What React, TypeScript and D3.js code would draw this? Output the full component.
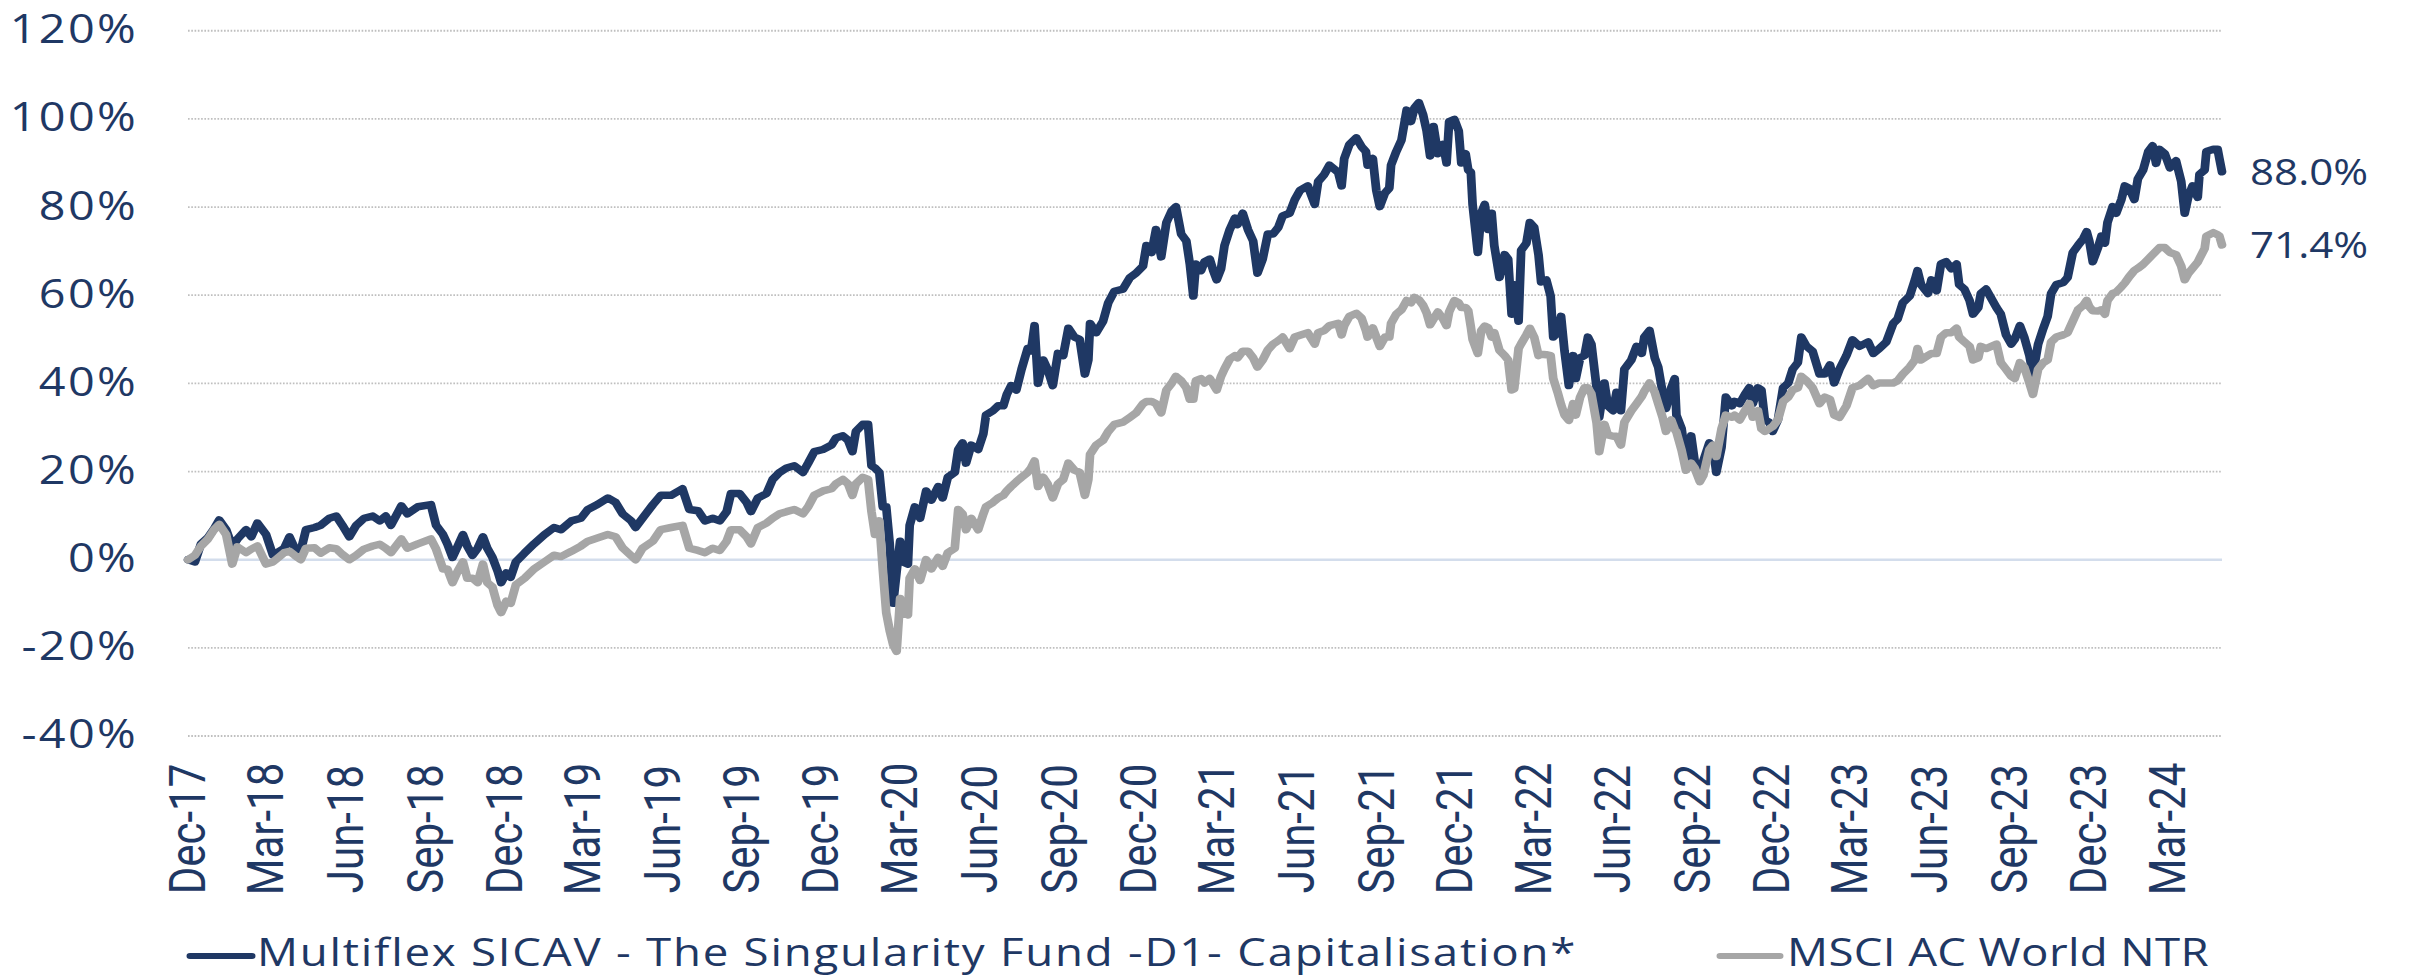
import React from "react";
import * as d3 from "d3";

// performance since launch, %
const dates = [
  "2017-12-29", "2018-01-06", "2018-01-13", "2018-01-21", "2018-01-28", "2018-02-03", "2018-02-11", "2018-02-18",
  "2018-02-24", "2018-03-06", "2018-03-12", "2018-03-19", "2018-03-29", "2018-04-06", "2018-04-11", "2018-04-19",
  "2018-04-25", "2018-05-01", "2018-05-08", "2018-05-14", "2018-05-24", "2018-05-31", "2018-06-10", "2018-06-18",
  "2018-06-25", "2018-07-03", "2018-07-11", "2018-07-20", "2018-07-30", "2018-08-07", "2018-08-14", "2018-08-20",
  "2018-09-01", "2018-09-08", "2018-09-20", "2018-10-05", "2018-10-11", "2018-10-19", "2018-10-24", "2018-10-30",
  "2018-11-05", "2018-11-11", "2018-11-16", "2018-11-22", "2018-11-28", "2018-12-04", "2018-12-09", "2018-12-15",
  "2018-12-21", "2018-12-25", "2018-12-31", "2019-01-05", "2019-01-11", "2019-01-21", "2019-02-01", "2019-02-13",
  "2019-02-24", "2019-03-04", "2019-03-16", "2019-03-27", "2019-04-04", "2019-04-15", "2019-04-27", "2019-05-06",
  "2019-05-14", "2019-05-24", "2019-05-29", "2019-06-06", "2019-06-18", "2019-06-27", "2019-07-09", "2019-07-22",
  "2019-07-30", "2019-08-09",
  "2019-08-17", "2019-08-26", "2019-09-03", "2019-09-11", "2019-09-16", "2019-09-26", "2019-10-04", "2019-10-09",
  "2019-10-17", "2019-10-27", "2019-11-03", "2019-11-11", "2019-11-19", "2019-11-28", "2019-12-08", "2019-12-14",
  "2019-12-21", "2019-12-31", "2020-01-10", "2020-01-15", "2020-01-23", "2020-01-29", "2020-02-03", "2020-02-07",
  "2020-02-15", "2020-02-21", "2020-02-25", "2020-02-29", "2020-03-05", "2020-03-09", "2020-03-13", "2020-03-17",
  "2020-03-21", "2020-03-25", "2020-03-29", "2020-04-01", "2020-04-07", "2020-04-09", "2020-04-15", "2020-04-21",
  "2020-04-28", "2020-05-04", "2020-05-12", "2020-05-17", "2020-05-23", "2020-05-31", "2020-06-04", "2020-06-09",
  "2020-06-13", "2020-06-19", "2020-06-27", "2020-07-03", "2020-07-06", "2020-07-14", "2020-07-20", "2020-07-26",
  "2020-07-30", "2020-08-04", "2020-08-10", "2020-08-16", "2020-08-23", "2020-08-27", "2020-08-31", "2020-09-04",
  "2020-09-10", "2020-09-15", "2020-09-21", "2020-09-27", "2020-10-03", "2020-10-09", "2020-10-16", "2020-10-22",
  "2020-10-28", "2020-11-01", "2020-11-03", "2020-11-10", "2020-11-18", "2020-11-24", "2020-12-01", "2020-12-11",
  "2020-12-19", "2020-12-26", "2021-01-03", "2021-01-07", "2021-01-13", "2021-01-18", "2021-01-24", "2021-01-30",
  "2021-02-05", "2021-02-10", "2021-02-16", "2021-02-22", "2021-02-26", "2021-03-02", "2021-03-05", "2021-03-11",
  "2021-03-15",
  "2021-03-21", "2021-03-25", "2021-03-29", "2021-04-03", "2021-04-07", "2021-04-13", "2021-04-19", "2021-04-22",
  "2021-04-28", "2021-05-04", "2021-05-10", "2021-05-15", "2021-05-21", "2021-05-27", "2021-06-02", "2021-06-08",
  "2021-06-13", "2021-06-21", "2021-06-27", "2021-07-03", "2021-07-12", "2021-07-20", "2021-07-24", "2021-07-31",
  "2021-08-06", "2021-08-16", "2021-08-20", "2021-08-23", "2021-08-29", "2021-09-06", "2021-09-12", "2021-09-17",
  "2021-09-19", "2021-09-25", "2021-09-29", "2021-10-03", "2021-10-09", "2021-10-14", "2021-10-16", "2021-10-22",
  "2021-10-28", "2021-11-03", "2021-11-08", "2021-11-12", "2021-11-17", "2021-11-22", "2021-11-26", "2021-11-30",
  "2021-12-04", "2021-12-09", "2021-12-15", "2021-12-19", "2021-12-22", "2021-12-28", "2022-01-02", "2022-01-05",
  "2022-01-10", "2022-01-13", "2022-01-16", "2022-01-18", "2022-01-24", "2022-01-28", "2022-02-01", "2022-02-05",
  "2022-02-09", "2022-02-12", "2022-02-18", "2022-02-24", "2022-02-28", "2022-03-04", "2022-03-07", "2022-03-12",
  "2022-03-15", "2022-03-21", "2022-03-25", "2022-03-30", "2022-04-04", "2022-04-07", "2022-04-13", "2022-04-18",
  "2022-04-21", "2022-04-26", "2022-04-30", "2022-05-04", "2022-05-09", "2022-05-14", "2022-05-17", "2022-05-22",
  "2022-05-27", "2022-05-31", "2022-06-04", "2022-06-10", "2022-06-13", "2022-06-19", "2022-06-23", "2022-06-29",
  "2022-07-03", "2022-07-08", "2022-07-12", "2022-07-20", "2022-07-26", "2022-08-01", "2022-08-04", "2022-08-10",
  "2022-08-16", "2022-08-20", "2022-08-25", "2022-08-29", "2022-09-04", "2022-09-08", "2022-09-10", "2022-09-16",
  "2022-09-21", "2022-09-27", "2022-10-01", "2022-10-07", "2022-10-11", "2022-10-18", "2022-10-22", "2022-10-26",
  "2022-11-01", "2022-11-06", "2022-11-13",
  "2022-11-16", "2022-11-22", "2022-11-28", "2022-12-03", "2022-12-07", "2022-12-13", "2022-12-17", "2022-12-21",
  "2022-12-26", "2022-12-30", "2023-01-05", "2023-01-11", "2023-01-17", "2023-01-22", "2023-01-28", "2023-02-01",
  "2023-02-07", "2023-02-14", "2023-02-22", "2023-02-28", "2023-03-06", "2023-03-11", "2023-03-17", "2023-03-25",
  "2023-04-01", "2023-04-09", "2023-04-19", "2023-04-25", "2023-05-02", "2023-05-10", "2023-05-18", "2023-05-23",
  "2023-05-29", "2023-06-06", "2023-06-12", "2023-06-15", "2023-06-19", "2023-06-27", "2023-07-01", "2023-07-07",
  "2023-07-12", "2023-07-18", "2023-07-24", "2023-07-30", "2023-08-02", "2023-08-08", "2023-08-14", "2023-08-18",
  "2023-08-24", "2023-08-27", "2023-09-02", "2023-09-08", "2023-09-14", "2023-09-19", "2023-09-25", "2023-10-01",
  "2023-10-05", "2023-10-11", "2023-10-16", "2023-10-22", "2023-10-26", "2023-11-01", "2023-11-07", "2023-11-12",
  "2023-11-16", "2023-11-22", "2023-11-30", "2023-12-05", "2023-12-11", "2023-12-17", "2023-12-23", "2023-12-27",
  "2023-12-30", "2024-01-03", "2024-01-09", "2024-01-13", "2024-01-17", "2024-01-20", "2024-01-26", "2024-01-30",
  "2024-02-05", "2024-02-09", "2024-02-14", "2024-02-20", "2024-02-24", "2024-03-01", "2024-03-07", "2024-03-12",
  "2024-03-16", "2024-03-20", "2024-03-26", "2024-04-01", "2024-04-08", "2024-04-14", "2024-04-18", "2024-04-22",
  "2024-04-27", "2024-05-03", "2024-05-05", "2024-05-11", "2024-05-13", "2024-05-21", "2024-05-26", "2024-05-28",
  "2024-05-31",
];

const fundValues = [
  0.0, -0.5, 3.6, 5.0, 7.0, 9.0, 6.8, 3.0,
  4.7, 6.8, 5.2, 8.3, 5.7, 1.0, 1.6, 2.6,
  5.2, 2.6, 2.0, 6.8, 7.3, 7.8, 9.4, 9.9,
  7.8, 5.2, 7.8, 9.4, 9.9, 8.8, 9.9, 7.8,
  12.2, 10.4, 12.0, 12.5, 7.8, 5.7, 3.6, 0.5,
  3.1, 5.7, 3.1, 1.0, 2.6, 5.2, 2.6, 0.5,
  -2.6, -5.2, -3.0, -4.0, -0.5, 1.5, 3.6, 5.7,
  7.3, 6.8, 8.8, 9.4, 11.4, 12.5, 14.0, 13.0,
  10.4, 8.8, 7.3, 9.4, 12.5, 14.6, 14.6, 16.1,
  11.4, 11.1,
  8.8, 9.4, 8.8, 10.9, 15.0, 15.0, 13.0, 10.9,
  14.0, 15.0, 18.2, 19.8, 20.8, 21.3, 19.8, 21.9,
  24.5, 25.0, 26.0, 27.6, 28.1, 27.1, 24.5, 29.1,
  30.7, 30.7, 21.3, 20.8, 19.8, 12.0, 12.0, 3.6,
  -9.9, -2.6, 4.2, -0.5, -1.0, 7.8, 12.0, 9.4,
  15.6, 13.5, 16.6, 14.0, 18.7, 19.8, 25.0, 26.5,
  21.9, 26.0, 25.0, 28.6, 32.8, 33.8, 34.9, 34.9,
  37.5, 39.5, 38.5, 43.2, 47.9, 47.4, 53.1, 40.0,
  45.3, 43.2, 39.5, 46.8, 46.3, 52.5, 50.5, 50.0,
  42.1, 45.3, 53.6, 51.5, 54.1, 58.3, 60.9, 61.4,
  64.0, 65.0, 66.6, 71.3, 69.7, 74.9, 68.7, 76.5,
  79.1, 80.1, 73.9, 72.3, 67.1, 59.8, 67.1, 65.6,
  67.6,
  68.2, 65.6, 63.5, 66.0, 71.3, 74.9, 77.5, 76.0,
  78.6, 74.9, 72.3, 65.0, 68.2, 73.9, 73.9, 75.4,
  78.0, 78.6, 81.7, 83.8, 84.8, 80.6, 85.8, 87.4,
  89.5, 87.9, 84.8, 91.0, 94.2, 95.7, 93.7, 92.6,
  89.5, 91.0, 83.8, 80.1, 83.2, 84.3, 89.5, 92.6,
  95.2, 102.0, 99.4, 102.5, 103.7, 100.9, 97.3, 91.6,
  98.3, 92.1, 94.2, 90.0, 99.4, 99.9, 97.3, 90.0,
  92.1, 88.4, 87.9, 80.6, 69.7, 78.6, 80.6, 74.9,
  78.6, 71.3, 64.0, 69.2, 68.2, 55.7, 62.4, 54.1,
  70.2, 71.8, 76.5, 75.4, 69.2, 63.0, 63.5, 59.8,
  50.5, 51.5, 55.2, 47.3, 39.5, 46.3, 41.1, 45.8,
  46.3, 50.5, 48.9, 39.0, 32.3, 40.1, 34.9, 33.8,
  38.0, 33.8, 43.2, 45.3, 48.4, 46.8, 50.5, 52.0,
  45.8, 43.7, 38.0, 34.3, 39.0, 41.1, 32.8, 29.7,
  22.4, 28.1, 22.4, 20.8, 22.4, 26.5, 25.5, 19.8,
  25.5, 36.9, 34.9,
  35.9, 35.4, 37.5, 39.0, 35.4, 39.0, 38.5, 31.7,
  31.2, 29.1, 31.7, 39.0, 40.1, 43.2, 44.7, 50.5,
  48.4, 47.3, 42.1, 42.1, 44.2, 40.1, 43.2, 46.3,
  49.9, 48.4, 49.4, 46.8, 47.9, 49.4, 53.6, 54.6,
  58.3, 59.8, 63.5, 65.6, 62.4, 60.4, 63.5, 61.0,
  67.1, 67.6, 66.0, 67.1, 62.4, 61.4, 58.8, 55.7,
  57.2, 60.4, 61.4, 59.3, 57.2, 55.7, 51.0, 48.9,
  50.0, 53.1, 50.5, 46.3, 42.1, 48.9, 52.5, 55.2,
  60.4, 62.4, 62.9, 64.0, 69.7, 71.3, 72.8, 74.4,
  72.3, 67.6, 70.8, 73.4, 71.8, 76.5, 80.1, 78.6,
  81.7, 84.8, 84.3, 81.7, 86.4, 88.4, 92.6, 93.9,
  89.9, 93.1, 92.1, 88.9, 90.5, 85.8, 78.6, 82.2,
  84.8, 82.2, 87.4, 88.4, 92.6, 93.1, 93.1, 91.0,
  88.0,
];

const msciValues = [
  0.0, 1.0, 3.1, 4.7, 6.8, 8.0, 5.7, -1.0,
  2.9, 1.6, 2.4, 3.1, -1.0, -0.5, 0.3, 1.6,
  1.9, 1.0, 0.0, 2.6, 2.7, 1.5, 2.7, 2.5,
  1.2, 0.0, 1.0, 2.4, 3.1, 3.5, 2.6, 1.6,
  4.7, 2.6, 3.6, 4.7, 2.4, -2.1, -2.1, -5.2,
  -2.6, -0.5, -4.2, -4.2, -5.2, -1.0, -5.2, -6.2,
  -10.4, -12.0, -9.4, -9.9, -5.7, -4.2, -2.1, -0.5,
  1.0, 0.7, 1.9, 3.1, 4.2, 4.9, 5.7, 5.2,
  2.7, 0.9, 0.0, 2.6, 4.2, 6.8, 7.3, 7.8,
  2.6, 2.1,
  1.6, 2.6, 2.1, 4.2, 6.8, 6.8, 5.2, 3.6,
  7.3, 8.3, 9.4, 10.4, 10.9, 11.4, 10.4, 12.0,
  14.6, 15.6, 16.1, 17.2, 18.2, 17.2, 14.6, 17.2,
  18.7, 18.2, 10.9, 5.7, 8.8, -2.1, -12.0, -16.1,
  -19.3, -20.8, -8.8, -12.0, -12.5, -4.2, -2.1, -4.7,
  0.0, -2.1, 0.5, -1.5, 1.6, 2.6, 11.4, 10.4,
  6.8, 9.4, 6.8, 10.4, 12.0, 13.0, 14.0, 14.6,
  15.6, 16.6, 17.7, 18.7, 19.8, 20.8, 22.4, 16.6,
  18.7, 17.2, 14.0, 17.2, 18.2, 21.9, 20.3, 19.8,
  14.6, 18.2, 23.9, 26.0, 27.1, 29.1, 30.7, 31.2,
  32.3, 33.3, 35.4, 35.9, 35.9, 35.4, 33.3, 38.5,
  40.0, 41.6, 40.6, 39.0, 36.4, 36.4, 40.6, 41.1,
  40.1,
  41.1, 39.8, 38.5, 41.6, 43.3, 45.5, 46.3, 45.8,
  47.3, 47.3, 45.8, 43.7, 45.3, 47.6, 48.9, 49.7,
  50.5, 47.9, 50.5, 50.9, 51.5, 48.9, 51.5, 52.0,
  53.1, 53.6, 51.0, 53.1, 55.2, 55.9, 54.8, 52.0,
  50.5, 52.6, 50.5, 48.4, 50.5, 50.5, 53.6, 55.7,
  56.7, 58.8, 58.3, 59.5, 59.0, 57.7, 56.0, 53.3,
  54.6, 56.2, 54.6, 53.1, 56.2, 58.8, 58.3, 57.2,
  57.2, 56.5, 52.8, 50.0, 46.8, 52.0, 53.0, 52.6,
  50.5, 51.5, 47.5, 46.3, 45.3, 38.5, 38.8, 47.9,
  49.0, 51.0, 52.5, 50.5, 46.3, 46.6, 46.5, 46.3,
  41.1, 38.0, 35.2, 32.8, 31.6, 35.4, 32.8, 36.9,
  39.0, 39.0, 37.6, 31.0, 24.5, 30.7, 28.3, 28.0,
  28.0, 26.0, 31.2, 33.8, 35.4, 37.0, 38.2, 40.1,
  38.0, 35.4, 32.3, 29.1, 31.7, 29.6, 29.0, 24.8,
  20.3, 21.9, 20.8, 17.7, 19.1, 25.0, 26.0, 23.4,
  29.7, 32.8, 32.3,
  32.8, 31.7, 33.8, 35.4, 32.3, 33.8, 29.7, 29.1,
  29.7, 30.2, 31.7, 35.9, 36.9, 38.5, 39.0, 41.6,
  40.6, 39.0, 35.4, 36.9, 36.4, 32.8, 32.3, 34.9,
  39.0, 39.5, 41.1, 39.5, 40.1, 40.1, 40.1, 40.6,
  42.1, 43.7, 45.3, 47.9, 45.3, 46.3, 46.8, 46.8,
  50.5, 51.5, 51.5, 52.5, 50.5, 49.4, 48.4, 45.3,
  45.8, 48.4, 47.9, 48.4, 48.9, 44.7, 43.2, 41.6,
  41.1, 44.7, 43.7, 40.1, 37.5, 43.2, 44.7, 45.3,
  49.4, 50.5, 51.0, 51.5, 54.1, 56.7, 57.7, 58.8,
  57.4, 56.5, 56.4, 56.7, 55.7, 58.8, 60.4, 60.7,
  61.9, 62.8, 64.2, 65.6, 66.1, 67.0, 68.2, 69.2,
  70.0, 70.8, 70.8, 69.7, 69.2, 66.6, 63.5, 64.9,
  66.1, 67.5, 68.3, 70.6, 73.4, 74.2, 73.7, 73.4,
  71.4,
];

const yTicks = [-40, -20, 0, 20, 40, 60, 80, 100, 120];
const yTickLabels = ["-40%", "-20%", "0%", "20%", "40%", "60%", "80%", "100%", "120%"];

const xTickDates = [
  "2017-12-29", "2018-03-29", "2018-06-29", "2018-09-29", "2018-12-29", "2019-03-29", "2019-06-29",
  "2019-09-29", "2019-12-29", "2020-03-29", "2020-06-29", "2020-09-29", "2020-12-29", "2021-03-29",
  "2021-06-29", "2021-09-29", "2021-12-29", "2022-03-29", "2022-06-29", "2022-09-29", "2022-12-29",
  "2023-03-29", "2023-06-29", "2023-09-29", "2023-12-29", "2024-03-29",
];
const xTickLabels = [
  "Dec-17", "Mar-18", "Jun-18", "Sep-18", "Dec-18", "Mar-19", "Jun-19", "Sep-19", "Dec-19",
  "Mar-20", "Jun-20", "Sep-20", "Dec-20", "Mar-21", "Jun-21", "Sep-21", "Dec-21", "Mar-22",
  "Jun-22", "Sep-22", "Dec-22", "Mar-23", "Jun-23", "Sep-23", "Dec-23", "Mar-24",
];

const seriesNames = ["Multiflex SICAV - The Singularity Fund -D1- Capitalisation*", "MSCI AC World NTR"];
const endLabels = ["88.0%", "71.4%"];

const NAVY = "#1F3864";
const GREY = "#A6A6A6";
const W = 2415;
const H = 978;
// the original picture is stretched sideways, so draw in a narrower box and stretch it
const SX = 1.17;
const VW = W / SX;

const App = () => {
  const parse = d3.timeParse("%Y-%m-%d");
  const rows = dates.map((d, i) => ({ date: parse(d) as Date, fund: fundValues[i], msci: msciValues[i] }));

  const x = d3.scaleTime()
    .domain(d3.extent(rows, r => r.date) as [Date, Date])
    .range([188 / SX, 2222 / SX]);
  const y = d3.scaleLinear().domain([-40, 120]).range([736, 30.75]);

  const fundLine = d3.line<any>().x(r => x(r.date)).y(r => y(r.fund));
  const msciLine = d3.line<any>().x(r => x(r.date)).y(r => y(r.msci));

  const [x0, x1] = x.range();
  const last = rows[rows.length - 1];

  return (
    <div style={{ position: "absolute", left: 0, top: 0 }}>
      <svg width={W} height={H} viewBox={`0 0 ${VW} ${H}`} preserveAspectRatio="none" style={{ display: "block", background: "#fff" }}>
        {/* gridlines */}
        {yTicks.map(t => (
          t === 0 ? null :
          <line key={t} x1={x0} x2={x1} y1={y(t)} y2={y(t)}
            stroke="#BFBFBF" strokeWidth={1.8} strokeDasharray="1.4 1.4" />
        ))}
        <line x1={x0} x2={x1} y1={y(0)} y2={y(0)} stroke="#D3DDEC" strokeWidth={2.5} />

        {/* y labels */}
        {yTicks.map((t, i) => (
          <text key={t} x={118} y={y(t) + 12.5} textAnchor="end" fill={NAVY}
            fontFamily="'Open Sans', sans-serif" fontSize={40} letterSpacing={2}>{yTickLabels[i]}</text>
        ))}

        {/* x labels */}
        {xTickDates.map((d, i) => {
          const px = x(parse(d) as Date);
          return (
            <text key={d} transform={`translate(${px},829) rotate(-90)`} textAnchor="middle" dy="0.35em"
              fill={NAVY} fontFamily="Roboto, sans-serif" fontSize={42}>{xTickLabels[i]}</text>
          );
        })}

        {/* series */}
        <path d={fundLine(rows) || ""} fill="none" stroke={NAVY} strokeWidth={7.5}
          strokeLinejoin="round" strokeLinecap="round" />
        <path d={msciLine(rows) || ""} fill="none" stroke={GREY} strokeWidth={7.5}
          strokeLinejoin="round" strokeLinecap="round" />

        {/* end values */}
        <text x={2250 / SX} y={y(last.fund)} dy="0.36em" fill={NAVY} fontFamily="'Open Sans', sans-serif"
          fontSize={36}>{endLabels[0]}</text>
        <text x={2250 / SX} y={y(last.msci)} dy="0.36em" fill={NAVY} fontFamily="'Open Sans', sans-serif"
          fontSize={36}>{endLabels[1]}</text>

        {/* legend */}
        <line x1={190 / SX} x2={252 / SX} y1={956} y2={956} stroke={NAVY} strokeWidth={6} strokeLinecap="round" />
        <text x={257 / SX} y={966} fill={NAVY} fontFamily="'Open Sans', sans-serif" fontSize={39}
          letterSpacing={1.5}>{seriesNames[0]}</text>
        <line x1={1720 / SX} x2={1780 / SX} y1={956} y2={956} stroke={GREY} strokeWidth={6} strokeLinecap="round" />
        <text x={1787 / SX} y={966} fill={NAVY} fontFamily="'Open Sans', sans-serif" fontSize={39}
          letterSpacing={0.3}>{seriesNames[1]}</text>
      </svg>
    </div>
  );
};

export default App;
